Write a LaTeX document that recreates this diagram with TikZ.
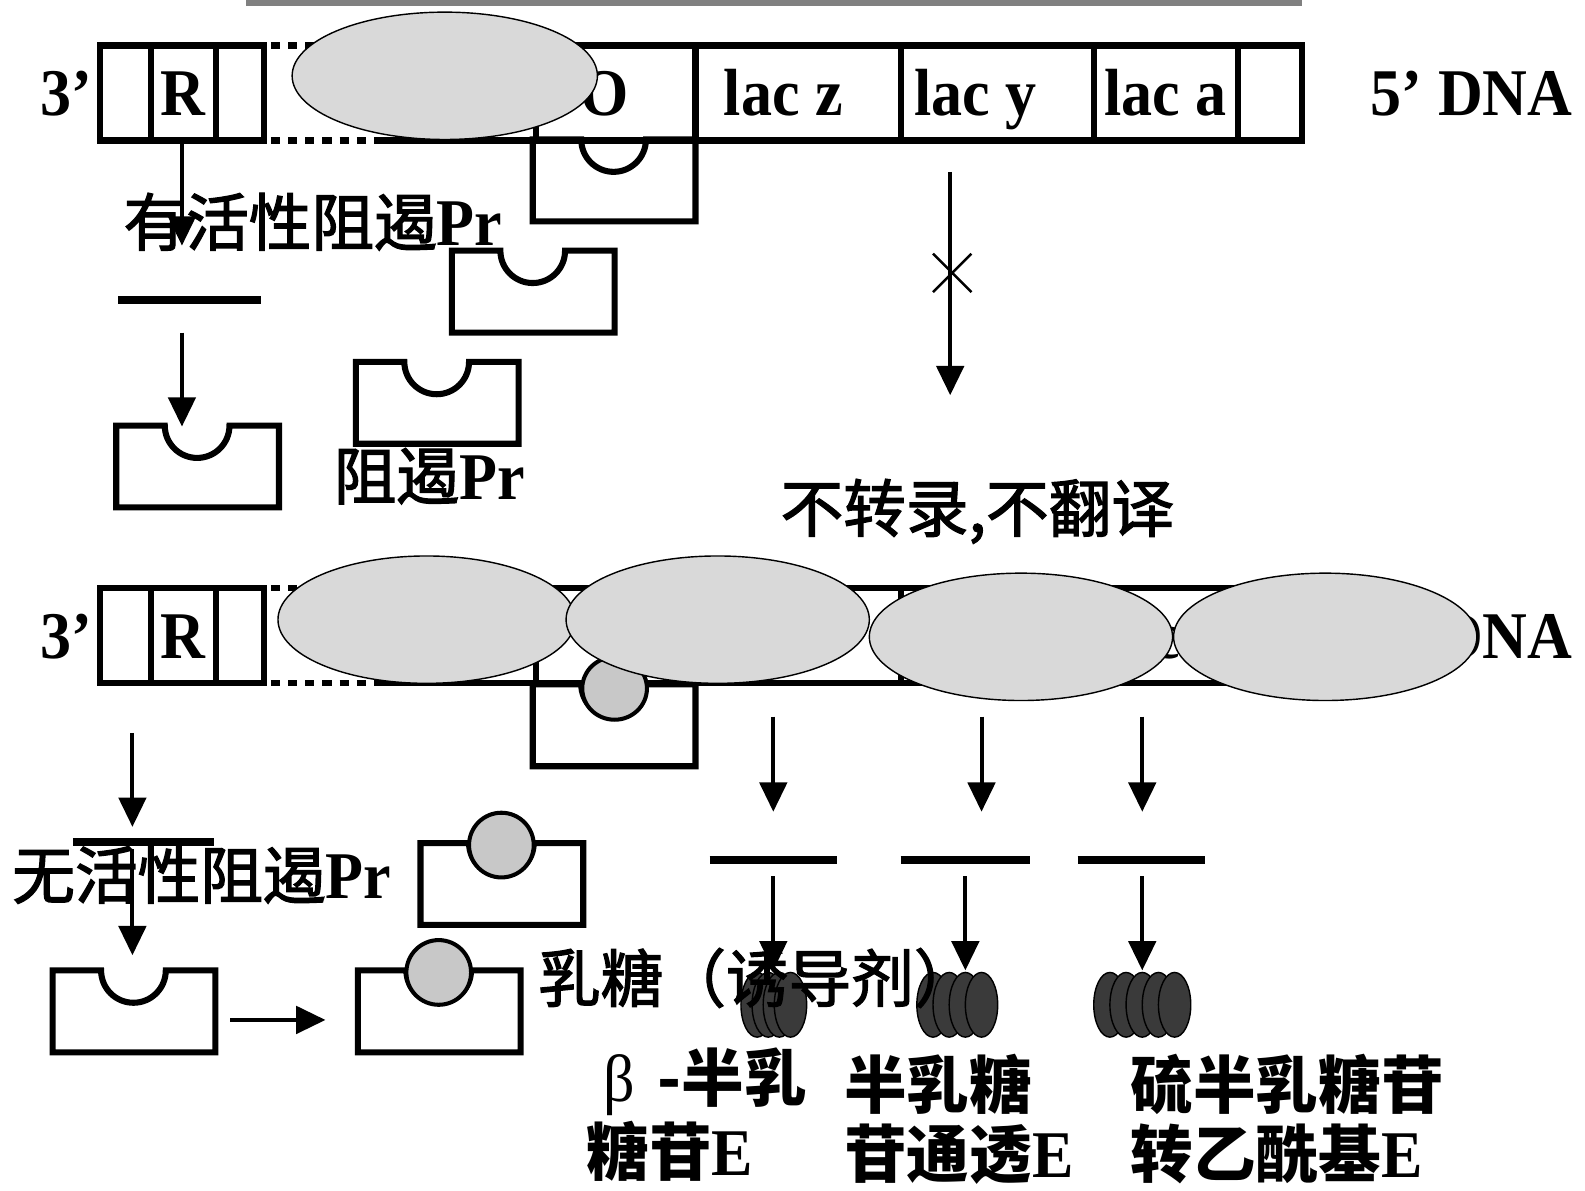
\documentclass[tikz,border=0pt]{standalone}
\usepackage{fontspec}
\setmainfont{Liberation Serif}
\newfontfamily\latin{Liberation Serif}[FakeStretch=0.93]
\newfontfamily\hanzi{Noto Sans CJK SC}
\newfontfamily\hanzim{Noto Sans CJK SC}[FakeBold=2]
\usetikzlibrary{arrows.meta}
\definecolor{polgray}{HTML}{D9D9D9}
\definecolor{lacgray}{HTML}{C8C8C8}
\definecolor{enzgray}{HTML}{3A3A3A}
\definecolor{bargray}{HTML}{808080}
\newcommand\latbf{\latin\bfseries\fontsize{66}{66}\selectfont}
\newcommand\latmd{\latin\mdseries\fontsize{66}{66}\selectfont}

\tikzset{
  strand/.style={line width=6pt, line join=miter},
  gap/.style={line width=6pt, dash pattern=on 9pt off 8pt},
  shell/.style={line width=6pt, line join=miter},
  flow/.style={line width=4pt, -{Triangle[length=29pt,width=27pt]}},
  mrna/.style={line width=8pt},
  pol/.style={fill=polgray, draw=black, line width=1.4pt},
  lactose/.style={fill=lacgray, draw=black, line width=4pt},
  enzyme/.style={fill=enzgray, draw=black, line width=1.4pt},
  lat/.style={font=\latbf, inner sep=0pt},
  han/.style={font=\hanzim\fontsize{62}{62}\selectfont, inner sep=0pt},
  hanb/.style={font=\hanzi\bfseries\fontsize{62}{62}\selectfont, inner sep=0pt},
  % repressor protein: a box with a half-round binding pocket on top
  repressor/.pic={
    \draw[shell] (0,0) -- (48,0) arc[start angle=180, end angle=0, radius=32]
      -- (161,0) -- (161,81) -- (0,81) -- cycle;
  },
  % lac operon strand with its gene boxes and labels
  operon/.pic={
    \draw[strand] (99,0) rectangle (261,94);
    \draw[strand] (149,0) -- (149,94) (214,0) -- (214,94);
    \draw[gap] (268,0) -- (368,0) (268,94) -- (368,94);
    \draw[strand] (370,0) -- (1288,0) -- (1288,94) -- (370,94);
    \draw[strand] (530,0) -- (530,94) (688,0) -- (688,94) (891,0) -- (891,94)
      (1082,0) -- (1082,94) (1225,0) -- (1225,94);
    \node[lat, anchor=base west] (-end3) at (40,69) {3’};
    \node[lat, anchor=base] (-R) at (181,69) {R};
    \node[lat, anchor=base] (-O) at (598,69) {O};
    \node[lat, anchor=base west] (-z) at (716,69) {lac z};
    \node[lat, anchor=base west] (-y) at (904,69) {lac y};
    \node[lat, anchor=base west] (-a) at (1092,69) {lac a};
    \node[lat, anchor=base west] (-end5) at (1356,69) {5’ DNA};
  }
}

\begin{document}
\begin{tikzpicture}[x=1pt, y=-1pt]
\useasboundingbox (0,0) rectangle (1568,1178);

\fill[bargray] (243,0) rectangle (1288,6);

% ---------- repressed operon ----------
\pic (top) at (0,45) {operon};
\pic at (527,138) {repressor};
\draw[pol] (440,75) ellipse [x radius=151, y radius=63];

\coordinate (rA0) at (180,138);
\coordinate (rA1) at (180,243);
\draw[flow] (rA0) -- (rA1);
\node[han, anchor=base west] (actlab) at (122,243) {有活性阻遏{\latbf Pr}};

\coordinate (mA0) at (117,297);
\coordinate (mA1) at (258,297);
\draw[mrna] (mA0) -- (mA1);
\coordinate (pA0) at (180,329);
\coordinate (pA1) at (180,422);
\draw[flow] (pA0) -- (pA1);

\pic at (115,421) {repressor};
\pic at (352,358) {repressor};
\pic at (447,248) {repressor};
\node[han, anchor=base west] (replab) at (330,494) {阻遏{\latbf Pr}};

\coordinate (bl0) at (940,170);
\coordinate (bl1) at (940,391);
\draw[flow] (bl0) -- (bl1);
\coordinate (xc) at (942,270);
\draw[line width=2.5pt] ([shift={(-19,-19)}]xc) -- ([shift={(19,19)}]xc)
  ([shift={(-19,19)}]xc) -- ([shift={(19,-19)}]xc);
\node[han, anchor=base west] (stoplab) at (772,526) {不转录,不翻译};

% ---------- induced operon ----------
\pic (bot) at (0,582) {operon};
\pic at (527,677) {repressor};
\draw[lactose] (608,681) ellipse [x radius=32, y radius=31];
\draw[pol] (422,613) ellipse [x radius=147, y radius=63];
\draw[pol] (710,613) ellipse [x radius=150, y radius=63];
\draw[pol] (1010,630) ellipse [x radius=150, y radius=63];
\draw[pol] (1311,630) ellipse [x radius=150, y radius=63];

\coordinate (rB0) at (131,725);
\coordinate (rB1) at (131,818);
\draw[flow] (rB0) -- (rB1);
\coordinate (mB0) at (72,833);
\coordinate (mB1) at (212,833);
\draw[mrna] (mB0) -- (mB1);
\coordinate (pB0) at (131,840);
\coordinate (pB1) at (131,945);
\draw[flow] (pB0) -- (pB1);
\node[han, anchor=base west] (inactlab) at (12,889) {无活性阻遏{\latbf Pr}};

\pic at (52,960) {repressor};
\coordinate (h0) at (228,1009);
\coordinate (h1) at (322,1009);
\draw[flow] (h0) -- (h1);
\pic at (354,960) {repressor};
\draw[lactose] (434,962) circle [radius=32];
\pic at (416,834) {repressor};
\draw[lactose] (496,836) circle [radius=32];

% structural genes: transcripts and enzymes
\foreach \gx/\tx/\mx/\my/\px in {765/765/702/828/765, 971/971/891/1019/955, 1130/1130/1066/1192/1130}{
  \coordinate (g0-\gx) at (\gx,709);
  \coordinate (g1-\gx) at (\tx,803);
  \draw[flow] (g0-\gx) -- (g1-\gx);
  \coordinate (t0-\gx) at (\mx,851);
  \coordinate (t1-\gx) at (\my,851);
  \draw[mrna] (t0-\gx) -- (t1-\gx);
  \coordinate (e0-\gx) at (\px,867);
  \coordinate (e1-\gx) at (\px,960);
}
\foreach \k in {0,...,3} \draw[enzyme] (749+11*\k,994) ellipse [x radius=16, y radius=32];
\foreach \k in {0,...,3} \draw[enzyme] (923+16*\k,994) ellipse [x radius=16, y radius=32];
\foreach \k in {0,...,4} \draw[enzyme] (1098+16*\k,994) ellipse [x radius=16, y radius=32];
\foreach \gx in {765,971,1130} \draw[flow] (e0-\gx) -- (e1-\gx);

\node[han, anchor=base west] (indlab) at (532,991) {乳糖（诱导剂）};

\node[hanb, anchor=base west] (galA) at (597,1090) {{\latmd β}\hspace{22pt}-半乳};
\node[hanb, anchor=base west] (galB) at (580,1163) {糖苷{\latbf E}};
\node[hanb, anchor=base west] (permA) at (835,1097) {半乳糖};
\node[hanb, anchor=base west] (permB) at (835,1165) {苷通透{\latbf E}};
\node[hanb, anchor=base west] (transA) at (1118,1097) {硫半乳糖苷};
\node[hanb, anchor=base west] (transB) at (1118,1165) {转乙酰基{\latbf E}};
\end{tikzpicture}
\end{document}
